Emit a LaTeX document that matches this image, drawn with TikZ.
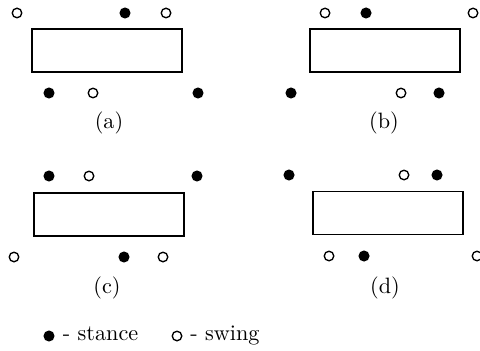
\documentclass[tikz,border=0pt]{standalone}
\usepackage{tikz}
\usetikzlibrary{positioning}
\tikzset{
  stancefoot/.style={circle, fill=black, inner sep=0pt, minimum size=5pt},
  swingfoot/.style={circle, draw=black, fill=white, line width=0.6pt, inner sep=0pt, minimum size=4.3pt},
  trunk/.style={draw=black, line width=0.75pt, inner sep=0pt, minimum width=67.5pt, minimum height=19.35pt},
  caselabel/.style={font=\normalsize, inner sep=0pt}
}

\begin{document}
\begin{tikzpicture}[x=0.45pt, y=-0.45pt]
\useasboundingbox (0,0) rectangle (480,350);
% (a)
\node[trunk] (a-body) at (107,50.5) {};
\node[swingfoot]  (a-t1) at (17,13) {};
\node[stancefoot] (a-t2) at (125,13) {};
\node[swingfoot]  (a-t3) at (166,13) {};
\node[stancefoot] (a-b1) at (49,93) {};
\node[swingfoot]  (a-b2) at (93,93) {};
\node[stancefoot] (a-b3) at (198,93) {};
\node[caselabel]  (a-lbl) at (109,123) {(a)};
% (b)
\node[trunk] (b-body) at (385,50.5) {};
\node[swingfoot]  (b-t1) at (325,13) {};
\node[stancefoot] (b-t2) at (366,13) {};
\node[swingfoot]  (b-t3) at (473,13) {};
\node[stancefoot] (b-b1) at (291,93) {};
\node[swingfoot]  (b-b2) at (401,93) {};
\node[stancefoot] (b-b3) at (439,93) {};
\node[caselabel]  (b-lbl) at (384,123) {(b)};
% (c)
\node[trunk] (c-body) at (109,214.5) {};
\node[stancefoot] (c-t1) at (49,176) {};
\node[swingfoot]  (c-t2) at (89,176) {};
\node[stancefoot] (c-t3) at (197,176) {};
\node[swingfoot]  (c-b1) at (14,257) {};
\node[stancefoot] (c-b2) at (124,257) {};
\node[swingfoot]  (c-b3) at (163,257) {};
\node[caselabel]  (c-lbl) at (107,288) {(c)};
% (d)
\node[trunk] (d-body) at (388,213) {};
\node[stancefoot] (d-t1) at (289,175) {};
\node[swingfoot]  (d-t2) at (404,175) {};
\node[stancefoot] (d-t3) at (437,175) {};
\node[swingfoot]  (d-b1) at (329,256) {};
\node[stancefoot] (d-b2) at (364,256) {};
\node[swingfoot]  (d-b3) at (477,256) {};
\node[caselabel]  (d-lbl) at (385,288) {(d)};
% legend
\node[stancefoot] (key-stance) at (49,336) {};
\node[base right=0pt of key-stance, yshift=-1.8pt] (key-stance-txt) {- stance};
\node[swingfoot] (key-swing) at (177,336) {};
\node[base right=0pt of key-swing, yshift=-1.8pt] (key-swing-txt) {- swing};
\end{tikzpicture}
\end{document}
